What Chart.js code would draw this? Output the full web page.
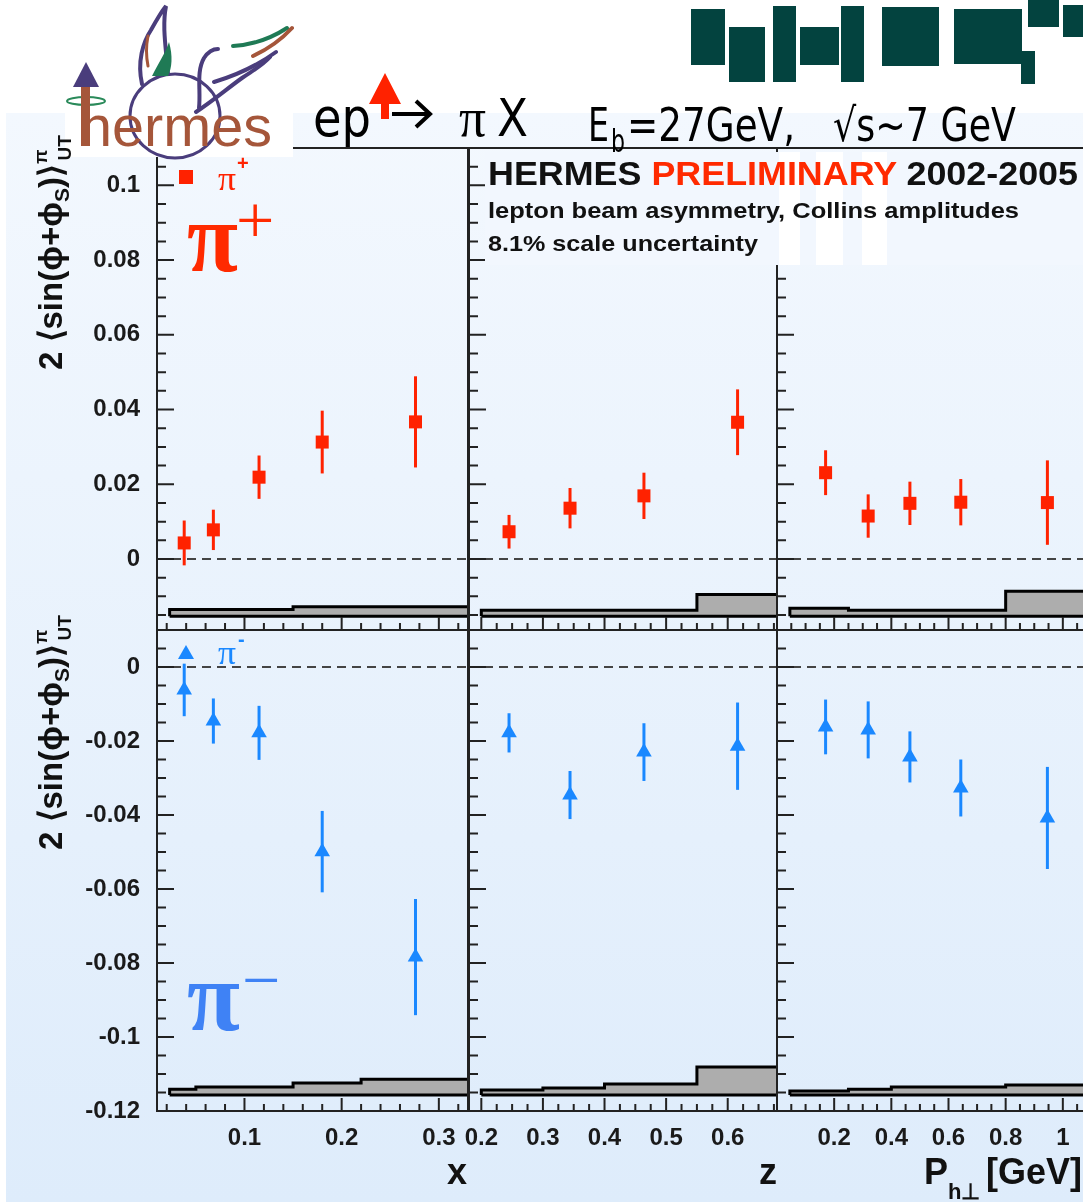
<!DOCTYPE html>
<html>
<head>
<meta charset="utf-8">
<title>HERMES Collins amplitudes</title>
<script src="https://cdn.jsdelivr.net/npm/chart.js@4.4.1/dist/chart.umd.min.js"></script>
<style>
  html, body { margin: 0; padding: 0; width: 1083px; height: 1202px; overflow: hidden; background: #ffffff; }
  #bg { position: absolute; left: 6px; top: 113px; width: 1077px; height: 1089px;
        background: linear-gradient(#f3f8fe, #deecfb); }
  #charts canvas { position: absolute; }
  #overlay { position: absolute; left: 0; top: 0; }
  #overlay text { font-family: "Liberation Sans", Arial, sans-serif; }
</style>
</head>
<body>
<div id="bg"></div>
<div id="charts"></div>

<svg id="overlay" width="1083" height="1202" xmlns="http://www.w3.org/2000/svg">
  <!-- opaque box behind the header text, with blank patches -->
  <rect x="485" y="152" width="598" height="113" fill="#f2f7fe"/>
  <rect x="779" y="152" width="21" height="113" fill="#ffffff"/>
  <rect x="816" y="152" width="27" height="113" fill="#ffffff"/>
  <rect x="862" y="152" width="25" height="113" fill="#ffffff"/>

  <!-- experiment logo -->
  <rect x="65" y="0" width="228" height="157" fill="#ffffff"/>
  <ellipse cx="175" cy="116" rx="45" ry="42" fill="none" stroke="#4a3d7c" stroke-width="3"/>
  <path d="M142,84 C137,62 143,42 151,30 C156,21 161,12 166,6 C162,26 166,48 168,74" fill="none" stroke="#4a3d7c" stroke-width="4" stroke-linecap="round"/>
  <path d="M152,76 C159,62 166,52 169,42 C173,56 172,68 168,76 Z" fill="#1f7a55"/>
  <path d="M148,36 C146,46 146,56 148,66" fill="none" stroke="#a5563a" stroke-width="3" stroke-linecap="round"/>
  <path d="M199,108 C201,90 196,72 204,58 C208,52 213,49 218,49" fill="none" stroke="#4a3d7c" stroke-width="4" stroke-linecap="round"/>
  <path d="M196,112 C214,100 228,88 242,78 C252,71 262,66 270,57" fill="none" stroke="#4a3d7c" stroke-width="4" stroke-linecap="round"/>
  <path d="M214,82 C234,76 254,68 276,52" fill="none" stroke="#4a3d7c" stroke-width="4" stroke-linecap="round"/>
  <path d="M233,46 C250,45 270,39 287,28" fill="none" stroke="#1f7a55" stroke-width="4" stroke-linecap="round"/>
  <path d="M253,56 C266,50 280,41 292,28" fill="none" stroke="#a5563a" stroke-width="4" stroke-linecap="round"/>
  <ellipse cx="86" cy="101" rx="19" ry="4" fill="none" stroke="#2a8a5a" stroke-width="2"/>
  <text x="80" y="146" font-size="57" fill="#a5563a" textLength="192" lengthAdjust="spacingAndGlyphs">hermes</text>
  <rect x="81" y="86" width="9" height="60" fill="#a5563a"/>
  <path d="M73,87 L99,87 L86,62 Z" fill="#4a3d7c"/>

  <!-- reaction -->
  <text x="313" y="136" style="font-family:'DejaVu Sans'" font-size="54" textLength="58" lengthAdjust="spacingAndGlyphs">ep</text>
  <path d="M385,73 L401,104 L389,104 L389,119 L381,119 L381,104 L369,104 Z" fill="#ff2200"/>
  <g stroke="#000000" stroke-width="4" fill="none">
    <path d="M392,114 H428"/>
    <path d="M416,101 L430,114 L416,127"/>
  </g>
  <text x="459" y="136" style="font-family:'Liberation Serif'" font-size="54" textLength="27" lengthAdjust="spacingAndGlyphs">π</text>
  <text x="497" y="136" style="font-family:'DejaVu Sans'" font-size="52" textLength="31" lengthAdjust="spacingAndGlyphs">X</text>

  <!-- kinematics -->
  <text x="588" y="141" style="font-family:'DejaVu Sans'" font-size="46" textLength="21" lengthAdjust="spacingAndGlyphs">E</text>
  <text x="611" y="152" style="font-family:'DejaVu Sans'" font-size="32" textLength="14" lengthAdjust="spacingAndGlyphs">b</text>
  <text x="627" y="141" style="font-family:'DejaVu Sans'" font-size="46" textLength="168" lengthAdjust="spacingAndGlyphs">=27GeV,</text>
  <text x="833" y="141" style="font-family:'DejaVu Sans'" font-size="46" textLength="183" lengthAdjust="spacingAndGlyphs">√s~7 GeV</text>

  <!-- group logo blocks -->
  <g fill="#03433f">
    <rect x="691" y="9" width="34" height="56"/>
    <rect x="729" y="27" width="36" height="55"/>
    <rect x="773" y="6" width="23" height="76"/>
    <rect x="800" y="27" width="39" height="38"/>
    <rect x="841" y="6" width="23" height="76"/>
    <rect x="882" y="7" width="57" height="59"/>
    <rect x="954" y="9" width="68" height="55"/>
    <rect x="1021" y="51" width="14" height="33"/>
    <rect x="1028" y="0" width="31" height="27"/>
    <rect x="1063" y="5" width="20" height="32"/>
  </g>

  <!-- header inside the panels -->
  <text x="488" y="185" font-size="33" font-weight="bold" textLength="590" lengthAdjust="spacingAndGlyphs"><tspan fill="#111111">HERMES </tspan><tspan fill="#ff2a00">PRELIMINARY</tspan><tspan fill="#111111"> 2002-2005</tspan></text>
  <text x="488" y="218" font-size="22" font-weight="bold" fill="#111111" textLength="531" lengthAdjust="spacingAndGlyphs">lepton beam asymmetry, Collins amplitudes</text>
  <text x="488" y="251" font-size="22" font-weight="bold" fill="#111111" textLength="270" lengthAdjust="spacingAndGlyphs">8.1% scale uncertainty</text>

  <!-- legends -->
  <rect x="179" y="170" width="14" height="14" fill="#ff2200"/>
  <text x="218" y="190" style="font-family:'Liberation Serif'" font-size="34" fill="#ff2200" textLength="18" lengthAdjust="spacingAndGlyphs">π</text>
  <text x="237" y="170" font-size="20" font-weight="bold" fill="#ff2200">+</text>
  <path d="M186,645 L194,659 L178,659 Z" fill="#1a88ff"/>
  <text x="218" y="664" style="font-family:'Liberation Serif'" font-size="34" fill="#1a88ff" textLength="18" lengthAdjust="spacingAndGlyphs">π</text>
  <text x="238" y="646" font-size="20" font-weight="bold" fill="#1a88ff">-</text>

  <!-- charge labels -->
  <text x="187" y="271" style="font-family:'Liberation Serif'" font-size="100" font-weight="bold" fill="#ff2a00" textLength="51" lengthAdjust="spacingAndGlyphs">π</text>
  <text x="236" y="243" style="font-family:'Liberation Serif'" font-size="68" fill="#ff2a00">+</text>
  <text x="187" y="1030" style="font-family:'Liberation Serif'" font-size="100" font-weight="bold" fill="#3f82f5" textLength="53" lengthAdjust="spacingAndGlyphs">π</text>
  <text x="242" y="1003" style="font-family:'Liberation Serif'" font-size="68" fill="#3f82f5">−</text>

  <!-- axis titles -->
  <text x="447" y="1184" font-size="36" font-weight="bold" fill="#111111">x</text>
  <text x="759" y="1184" font-size="36" font-weight="bold" fill="#111111">z</text>
  <text x="924" y="1184" font-size="36" font-weight="bold" fill="#111111">P</text>
  <text x="948" y="1199" font-size="22" font-weight="bold" fill="#111111">h⊥</text>
  <text x="986" y="1184" font-size="36" font-weight="bold" fill="#111111">[GeV]</text>

  <text transform="translate(62,370) rotate(-90)" font-size="33" font-weight="bold" fill="#111111">2 ⟨sin(ϕ+ϕ<tspan font-size="21" dy="7">S</tspan><tspan dy="-7">)⟩</tspan><tspan font-size="19" dy="-15">π</tspan><tspan font-size="19" dx="-11" dy="24">UT</tspan></text>
  <text transform="translate(62,850) rotate(-90)" font-size="33" font-weight="bold" fill="#111111">2 ⟨sin(ϕ+ϕ<tspan font-size="21" dy="7">S</tspan><tspan dy="-7">)⟩</tspan><tspan font-size="19" dy="-15">π</tspan><tspan font-size="19" dx="-11" dy="24">UT</tspan></text>
</svg>

<script>
// ---- bin centres -------------------------------------------------------
const xBins   = [0.038, 0.068, 0.115, 0.180, 0.276];
const zBins   = [0.245, 0.344, 0.464, 0.616];
const ptBins  = [0.170, 0.319, 0.465, 0.643, 0.946];

// ---- Collins amplitudes, pi+ ------------------------------------------
const pipX     = [0.0043, 0.0078, 0.0219, 0.0313, 0.0367];
const pipXErr  = [0.0060, 0.0054, 0.0058, 0.0084, 0.0122];
const pipZ     = [0.0073, 0.0136, 0.0169, 0.0366];
const pipZErr  = [0.0045, 0.0054, 0.0062, 0.0088];
const pipPt    = [0.0231, 0.0115, 0.0149, 0.0152, 0.0151];
const pipPtErr = [0.0060, 0.0058, 0.0058, 0.0062, 0.0113];

// ---- Collins amplitudes, pi- ------------------------------------------
const pimX     = [-0.0062, -0.0146, -0.0178, -0.0499, -0.0784];
const pimXErr  = [0.0071, 0.0061, 0.0073, 0.0110, 0.0157];
const pimZ     = [-0.0178, -0.0346, -0.0230, -0.0214];
const pimZErr  = [0.0053, 0.0065, 0.0078, 0.0118];
const pimPt    = [-0.0162, -0.0170, -0.0243, -0.0327, -0.0408];
const pimPtErr = [0.0074, 0.0077, 0.0069, 0.0077, 0.0138];

// ---- systematic bands: bin edges and band heights ---------------------
const xSysEdges  = [0.023, 0.05, 0.15, 0.22, 0.40];
const zSysEdges  = [0.20, 0.30, 0.40, 0.55, 0.70];
const ptSysEdges = [0.045, 0.25, 0.40, 0.80, 1.30];
const sysBaseTop    = -0.0153;
const sysBaseBottom = -0.1157;
const pipXSys  = [0.0018, 0.0018, 0.0025, 0.0025];
const pipZSys  = [0.0016, 0.0016, 0.0016, 0.0058];
const pipPtSys = [0.0021, 0.0016, 0.0016, 0.0067];
const pimXSys  = [0.0016, 0.0022, 0.0033, 0.0043];
const pimZSys  = [0.0014, 0.0019, 0.0030, 0.0076];
const pimPtSys = [0.0011, 0.0016, 0.0022, 0.0027];

// ---- tick labels --------------------------------------------------------
const yTicksTop    = [0, 0.02, 0.04, 0.06, 0.08, 0.1];
const yTicksBottom = [-0.12, -0.1, -0.08, -0.06, -0.04, -0.02, 0];
const xTickLabels  = [0.1, 0.2, 0.3];
const zTickLabels  = [0.2, 0.3, 0.4, 0.5, 0.6];
const ptTickLabels = [0.2, 0.4, 0.6, 0.8, 1];

// ---- page layout of the 2x3 pad grid -----------------------------------
const PAGE_H = 1202;
const rowsGeom = [
  { top: 148, bottom: 630,  min: -0.019, max: 0.11, ticks: yTicksTop,    base: sysBaseTop },
  { top: 630, bottom: 1111, min: -0.12,  max: 0.01, ticks: yTicksBottom, base: sysBaseBottom }
];
const colsGeom = [
  { left: 157, right: 468,  min: 0.01, max: 0.33, minor: 0.02,  major: 0.1, ticks: xTickLabels,  bins: xBins,  edges: xSysEdges },
  { left: 469, right: 777,  min: 0.18, max: 0.68, minor: 0.025, major: 0.1, ticks: zTickLabels,  bins: zBins,  edges: zSysEdges },
  { left: 777, right: 1120, min: 0,    max: 1.2,  minor: 0.05,  major: 0.2, ticks: ptTickLabels, bins: ptBins, edges: ptSysEdges }
];
const series = [
  [ { v: pipX, e: pipXErr, s: pipXSys }, { v: pipZ, e: pipZErr, s: pipZSys }, { v: pipPt, e: pipPtErr, s: pipPtSys } ],
  [ { v: pimX, e: pimXErr, s: pimXSys }, { v: pimZ, e: pimZErr, s: pimZSys }, { v: pimPt, e: pimPtErr, s: pimPtSys } ]
];
const markerStyles = [
  { pointStyle: 'rect',     radius: 9.2, color: '#ff2200' },
  { pointStyle: 'triangle', radius: 9.0, color: '#1a88ff' }
];

const labelFont = { family: "'Liberation Sans', Arial, sans-serif", size: 24, weight: 'bold' };
const fmt = v => String(Math.round(v * 1000) / 1000);

function tickValues(min, max, step) {
  const out = [];
  const k0 = Math.ceil(min / step - 1e-6), k1 = Math.floor(max / step + 1e-6);
  for (let k = k0; k <= k1; k++) out.push(k * step);
  return out;
}
const isMultiple = (v, step) => Math.abs(v / step - Math.round(v / step)) < 1e-6;

// vertical error bars, drawn just before the markers of a dataset
const errorBars = {
  id: 'errorBars',
  beforeDatasetDraw(chart, args) {
    const ds = chart.data.datasets[args.index];
    if (!ds.errors) return;
    const { ctx, scales: { x, y } } = chart;
    ctx.save();
    ctx.strokeStyle = ds.backgroundColor;
    ctx.lineWidth = 3;
    ds.data.forEach((p, i) => {
      const px = x.getPixelForValue(p.x);
      ctx.beginPath();
      ctx.moveTo(px, y.getPixelForValue(p.y - ds.errors[i]));
      ctx.lineTo(px, y.getPixelForValue(p.y + ds.errors[i]));
      ctx.stroke();
    });
    ctx.restore();
  }
};

// pad frame, inward tick marks and dashed zero line
const padFrame = {
  id: 'padFrame',
  beforeDatasetsDraw(chart) {
    const { ctx, chartArea: a, scales: { y } } = chart;
    const y0 = y.getPixelForValue(0);
    ctx.save();
    ctx.strokeStyle = '#444444';
    ctx.lineWidth = 2;
    ctx.setLineDash([9, 6]);
    ctx.beginPath();
    ctx.moveTo(a.left, y0);
    ctx.lineTo(a.right, y0);
    ctx.stroke();
    ctx.restore();
  },
  afterDatasetsDraw(chart, args, opts) {
    const { ctx, chartArea: a, scales: { x, y } } = chart;
    ctx.save();
    ctx.strokeStyle = '#222222';
    ctx.lineWidth = 2;
    ctx.beginPath();
    for (const v of tickValues(x.min, x.max, opts.xMinor)) {
      const px = x.getPixelForValue(v);
      const len = isMultiple(v, opts.xMajor) ? 13 : 7;
      ctx.moveTo(px, a.bottom);
      ctx.lineTo(px, a.bottom - len);
    }
    for (const v of tickValues(y.min, y.max, 0.005)) {
      const py = y.getPixelForValue(v);
      const len = isMultiple(v, 0.02) ? 17 : 9;
      ctx.moveTo(a.left, py);
      ctx.lineTo(a.left + len, py);
    }
    ctx.stroke();
    ctx.strokeRect(a.left, a.top, a.right - a.left, a.bottom - a.top);
    ctx.restore();
  }
};

function bandOutline(edges, heights, base) {
  const pts = [{ x: edges[0], y: base }];
  heights.forEach((h, i) => {
    pts.push({ x: edges[i], y: base + h });
    pts.push({ x: edges[i + 1], y: base + h });
  });
  pts.push({ x: edges[edges.length - 1], y: base });
  pts.push({ x: edges[0], y: base });
  return pts;
}

function buildPad(r, c) {
  const row = rowsGeom[r], col = colsGeom[c], s = series[r][c], m = markerStyles[r];
  const pad = 40;
  const showY = c === 0, showX = r === 1;
  const cLeft = showY ? 0 : col.left - pad;
  const cTop = row.top - pad;
  const cRight = col.right + pad;
  const cBottom = showX ? PAGE_H : row.bottom + pad;

  const canvas = document.createElement('canvas');
  canvas.width = cRight - cLeft;
  canvas.height = cBottom - cTop;
  canvas.style.left = cLeft + 'px';
  canvas.style.top = cTop + 'px';
  document.getElementById('charts').appendChild(canvas);

  new Chart(canvas, {
    type: 'scatter',
    data: {
      datasets: [
        {
          data: bandOutline(col.edges, s.s, row.base),
          showLine: true,
          fill: 'shape',
          backgroundColor: '#adadad',
          borderColor: '#000000',
          borderWidth: 3,
          borderJoinStyle: 'miter',
          pointRadius: 0,
          tension: 0,
          order: 2
        },
        {
          data: col.bins.map((xv, i) => ({ x: xv, y: s.v[i] })),
          errors: s.e,
          pointStyle: m.pointStyle,
          pointRadius: m.radius,
          backgroundColor: m.color,
          borderColor: m.color,
          borderWidth: 0,
          order: 1
        }
      ]
    },
    options: {
      responsive: false,
      animation: false,
      devicePixelRatio: 1,
      events: [],
      layout: { padding: { left: showY ? 0 : pad, top: pad, right: pad, bottom: showX ? 0 : pad } },
      plugins: {
        legend: { display: false },
        tooltip: { enabled: false },
        padFrame: { xMinor: col.minor, xMajor: col.major }
      },
      scales: {
        x: {
          type: 'linear', min: col.min, max: col.max, display: showX,
          grid: { display: false, drawTicks: false }, border: { display: false },
          ticks: { autoSkip: false, maxRotation: 0, padding: 13, color: '#1a1a1a', font: labelFont, callback: fmt },
          afterBuildTicks: sc => { sc.ticks = col.ticks.map(v => ({ value: v })); },
          afterFit: sc => { if (showX) sc.height = PAGE_H - row.bottom; }
        },
        y: {
          type: 'linear', min: row.min, max: row.max, display: showY,
          grid: { display: false, drawTicks: false }, border: { display: false },
          ticks: { autoSkip: false, padding: 17, color: '#1a1a1a', font: labelFont, callback: fmt },
          afterBuildTicks: sc => { sc.ticks = row.ticks.map(v => ({ value: v })); },
          afterFit: sc => { if (showY) sc.width = col.left; }
        }
      }
    },
    plugins: [errorBars, padFrame]
  });
}

for (let r = 0; r < 2; r++) for (let c = 0; c < 3; c++) buildPad(r, c);
</script>
</body>
</html>
